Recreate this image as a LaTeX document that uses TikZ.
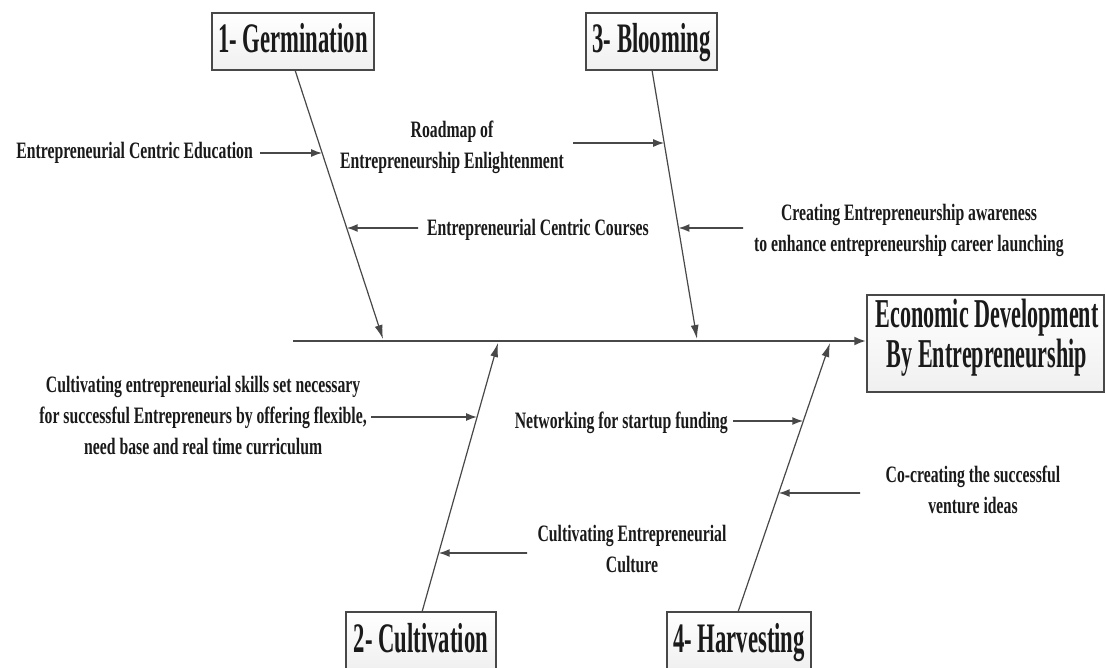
\documentclass[tikz,border=0pt]{standalone}
\usepackage{fontspec}
\setmainfont{Liberation Serif}
\newfontfamily\bigfont{Liberation Serif}[FakeStretch=0.54]
\newfontfamily\smallfont{Liberation Serif}[FakeStretch=0.67]
\usetikzlibrary{arrows.meta,calc}
\definecolor{ln}{HTML}{484848}
\definecolor{tx}{HTML}{1A1A1A}
\begin{document}
\begin{tikzpicture}[x=1pt,y=-1pt,
  box/.style={draw=ln, line width=1.4pt, top color=white, bottom color=gray!12, inner sep=0pt,
    font=\bigfont\bfseries\fontsize{42}{42}\selectfont, text=tx, text height=30pt, text depth=8pt},
  bigtxt/.style={font=\bigfont\bfseries\fontsize{41}{40}\selectfont, text=tx, align=center, inner sep=0pt},
  lbl/.style={font=\smallfont\bfseries\fontsize{23.5}{31}\selectfont, text=tx, align=center, inner sep=0pt},
  spine/.style={draw=ln, line width=2.6pt, -{Latex[length=12pt,width=9pt]}},
  bone/.style={draw=ln, line width=1.2pt, -{Latex[length=14pt,width=8pt]}},
  sarr/.style={draw=ln, line width=1.6pt, -{Latex[length=11pt,width=8pt]}},
]
\path[use as bounding box] (0,0) rectangle (1106,668);
\clip (0,0) rectangle (1106,668);
\fill[white] (0,0) rectangle (1106,668);

% boxes
\node[box, minimum width=162pt, minimum height=57pt] (germ) at (293,41.5) {1- Germination};
\node[box, minimum width=131pt, minimum height=57pt] (bloom) at (651.5,41.5) {3- Blooming};
\node[box, minimum width=150pt, minimum height=58pt] (cult) at (421,641) {2- Cultivation};
\node[box, minimum width=144pt, minimum height=58pt] (harv) at (739,641) {4- Harvesting};
\node[box, minimum width=237pt, minimum height=97pt] (econ) at (985.5,343.5) {};
\node[bigtxt] (econtxt) at (987,338) {Economic Development\\By Entrepreneurship};

% spine and bones
\coordinate (s0) at (293,341);
\coordinate (g0) at (295,70);  \coordinate (g1) at (383,339);
\coordinate (b0) at (652,70);  \coordinate (b1) at (697,339);
\coordinate (c0) at (422,612); \coordinate (c1) at (498,343);
\coordinate (h0) at (738,612); \coordinate (h1) at (830,343);
\draw[spine] (s0) -- (s0 -| econ.west);
\draw[bone] (g0) -- (g1);
\draw[bone] (b0) -- (b1);
\draw[bone] (c0) -- (c1);
\draw[bone] (h0) -- (h1);

% labels
\node[lbl, anchor=east] (l1) at (253,152.5) {Entrepreneurial Centric Education};
\node[lbl] (l2) at (452,147) {Roadmap of\\Entrepreneurship Enlightenment};
\node[lbl, anchor=west] (l3) at (427,229.5) {Entrepreneurial Centric Courses};
\node[lbl] (l4) at (909,230) {Creating Entrepreneurship awareness\\to enhance entrepreneurship career launching};
\node[lbl, anchor=east] (l5) at (367,415) {Cultivating entrepreneurial skills set necessary\\for successful Entrepreneurs by offering flexible,\\need base and real time curriculum};
\node[lbl, anchor=east] (l6) at (728,423) {Networking for startup funding};
\node[lbl] (l7) at (973,490) {Co-creating the successful\\venture ideas};
\node[lbl] (l8) at (632,549) {Cultivating Entrepreneurial\\Culture};

% arrow start points
\coordinate (a1) at (260,153);
\coordinate (a2) at (573,143);
\coordinate (a3) at (418,228);
\coordinate (a4) at (743,228);
\coordinate (a5) at (371,417);
\coordinate (a6) at (733,421);
\coordinate (a7) at (860,493);
\coordinate (a8) at (527,553);

\draw[sarr] (a1) -- ($(g0)!0.3086!(g1)$);
\draw[sarr] (a2) -- ($(b0)!0.2714!(b1)$);
\draw[sarr] (a3) -- ($(g0)!0.5874!(g1)$);
\draw[sarr] (a4) -- ($(b0)!0.5874!(b1)$);
\draw[sarr] (a5) -- ($(c0)!0.7249!(c1)$);
\draw[sarr] (a6) -- ($(h0)!0.7100!(h1)$);
\draw[sarr] (a7) -- ($(h0)!0.4424!(h1)$);
\draw[sarr] (a8) -- ($(c0)!0.2193!(c1)$);
\end{tikzpicture}
\end{document}
